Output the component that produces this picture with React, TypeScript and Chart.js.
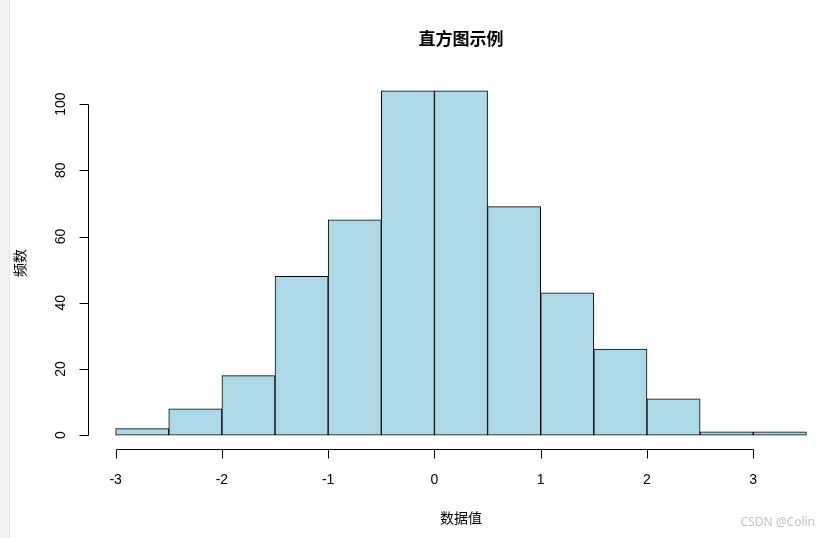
import React, { useEffect, useRef } from "react";
import { Chart, registerables } from "chart.js";

Chart.register(...registerables);

const binStarts = [-3, -2.5, -2, -1.5, -1, -0.5, 0, 0.5, 1, 1.5, 2, 2.5, 3];
const binWidth = 0.5;
const counts = [2, 8, 18, 48, 65, 104, 104, 69, 43, 26, 11, 1, 1];
const xTicks = [-3, -2, -1, 0, 1, 2, 3];
const yTicks = [0, 20, 40, 60, 80, 100];
const title = "直方图示例";
const xTitle = "数据值";
const yTitle = "频数";
const watermark = "CSDN @Colin";

const rAxes = {
  id: "rAxes",
  afterDraw(chart: any) {
    const ctx = chart.ctx;
    const xs = chart.scales.x;
    const ys = chart.scales.y;
    const area = chart.chartArea;
    ctx.save();
    // left browser strip
    ctx.fillStyle = "#f2f3f5";
    ctx.fillRect(0, 0, 9, chart.height);
    ctx.fillStyle = "#e2e3e6";
    ctx.fillRect(9, 0, 1, chart.height);

    ctx.strokeStyle = "#000";
    ctx.lineWidth = 1;
    ctx.fillStyle = "#000";
    ctx.font = "14px 'Liberation Sans', Arial, sans-serif";
    // x axis
    const xa = Math.round(area.bottom) + 0.5;
    const x0 = Math.round(xs.getPixelForValue(xTicks[0])) + 0.5;
    const x1 = Math.round(xs.getPixelForValue(xTicks[xTicks.length - 1])) + 0.5;
    ctx.beginPath();
    ctx.moveTo(x0, xa);
    ctx.lineTo(x1, xa);
    xTicks.forEach((t) => {
      const px = Math.round(xs.getPixelForValue(t)) + 0.5;
      ctx.moveTo(px, xa);
      ctx.lineTo(px, xa + 9);
    });
    ctx.stroke();
    ctx.textAlign = "center";
    ctx.textBaseline = "middle";
    xTicks.forEach((t) => {
      const px = xs.getPixelForValue(t);
      ctx.fillText(String(t), px, 480);
    });
    // y axis
    const ya = Math.round(area.left) + 0.5;
    const yTop = Math.round(ys.getPixelForValue(yTicks[yTicks.length - 1])) + 0.5;
    const yBot = Math.round(ys.getPixelForValue(yTicks[0])) + 0.5;
    ctx.beginPath();
    ctx.moveTo(ya, yTop);
    ctx.lineTo(ya, yBot);
    yTicks.forEach((t) => {
      const py = Math.round(ys.getPixelForValue(t)) + 0.5;
      ctx.moveTo(ya, py);
      ctx.lineTo(ya - 9, py);
    });
    ctx.stroke();
    yTicks.forEach((t) => {
      const py = ys.getPixelForValue(t);
      ctx.save();
      ctx.translate(61, py);
      ctx.rotate(-Math.PI / 2);
      ctx.fillText(String(t), 0, 0);
      ctx.restore();
    });
    // titles
    const cx = (area.left + area.right) / 2;
    const cy = (area.top + area.bottom) / 2;
    ctx.font = "bold 17px 'Noto Sans CJK SC', sans-serif";
    ctx.fillText(title, cx, 39);
    ctx.font = "14px 'Noto Sans CJK SC', sans-serif";
    ctx.fillText(xTitle, cx, 518);
    ctx.save();
    ctx.translate(20, cy);
    ctx.rotate(-Math.PI / 2);
    ctx.fillText(yTitle, 0, 0);
    ctx.restore();
    // watermark
    ctx.fillStyle = "#c4c4c4";
    ctx.font = "12px 'Noto Sans', sans-serif";
    ctx.textAlign = "right";
    ctx.fillText(watermark, 815, 523);
    ctx.restore();
  },
};

export default function App() {
  const ref = useRef<HTMLCanvasElement>(null);
  useEffect(() => {
    document.body.style.margin = "0";
    const data = binStarts.map((s, i) => ({ x: s + binWidth / 2, y: counts[i] }));
    const chart = new Chart(ref.current!, {
      type: "bar",
      data: {
        datasets: [
          {
            data,
            backgroundColor: "#add8e6",
            borderColor: "#000",
            borderWidth: 1,
            barPercentage: 1,
            categoryPercentage: 1,
            borderSkipped: false,
          } as any,
        ],
      },
      options: {
        animation: false,
        responsive: false,
        layout: { padding: { left: 88, right: 2, top: 77, bottom: 89 } },
        plugins: { legend: { display: false }, tooltip: { enabled: false }, title: { display: false } },
        scales: {
          x: { type: "linear", min: -3.26, max: 3.76, display: false, offset: false },
          y: { min: -4.16, max: 108.16, display: false },
        },
      },
      plugins: [rAxes],
    });
    return () => chart.destroy();
  }, []);
  return (
    <div style={{ position: "fixed", left: 0, top: 0, width: 836, height: 538, background: "#fff" }}>
      <canvas ref={ref} width={836} height={538} />
    </div>
  );
}
